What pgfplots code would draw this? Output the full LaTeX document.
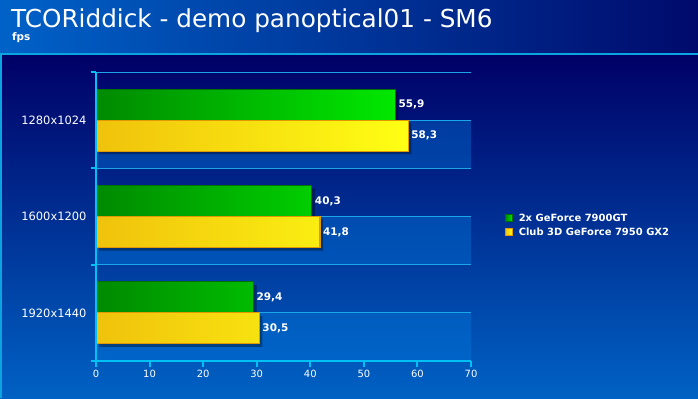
\documentclass[border=0pt]{standalone}
\usepackage{fontspec}
\setmainfont{DejaVu Sans}
\usepackage{pgfplots}
\pgfplotsset{compat=1.18}
\definecolor{titleL}{HTML}{0062C8}
\definecolor{titleR}{HTML}{000A6C}
\definecolor{panelT}{HTML}{000066}
\definecolor{panelB}{HTML}{0062C4}
\definecolor{cyanline}{HTML}{0BA3E0}
\definecolor{axiscyan}{HTML}{00C0F4}
\definecolor{gridcyan}{HTML}{1AA6E8}
\definecolor{bandcol}{HTML}{0078DC}
\definecolor{gL}{HTML}{008A00}
\definecolor{gR}{HTML}{00E800}
\definecolor{gB}{HTML}{007000}
\definecolor{yL}{HTML}{F0C20C}
\definecolor{yR}{HTML}{FFFF14}
\definecolor{yB}{HTML}{E09A00}
\begin{document}
\begin{tikzpicture}[x=1bp,y=1bp]
\useasboundingbox (0,0) rectangle (698,398);
\shade[left color=titleL,right color=titleR] (0,345) rectangle (698,398);
\shade[top color=panelT,bottom color=panelB] (0,0) rectangle (698,344);
\fill[cyanline] (0,343.5) rectangle (698,345.5);
\fill[cyanline] (0,0) rectangle (2,345);
\node[anchor=base west, text=white, font=\fontsize{24.8}{24.8}\selectfont, inner sep=0] at (11,371) {TCORiddick - demo panoptical01 - SM6};
\node[anchor=base west, text=white, font=\bfseries\fontsize{10.5}{10.5}\selectfont, inner sep=0] at (12,357.5) {fps};
\begin{axis}[
  at={(96bp,37bp)}, anchor=south west, scale only axis,
  width=375bp, height=289bp,
  xmin=0, xmax=70, ymin=-0.5, ymax=2.5,
  axis on top,
  axis x line*=bottom, axis y line*=left,
  axis line style={axiscyan, line width=2bp, -},
  xtick={0,10,...,70},
  ytick={-0.5,0.5,1.5,2.5},
  yticklabels={},
  extra y ticks={0,1,2},
  extra y tick labels={1920x1440,1600x1200,1280x1024},
  extra y tick style={major tick length=0pt},
  tick align=outside,
  major tick length=5.5bp,
  tick style={axiscyan, line width=2bp},
  /pgf/number format/assume math mode=true,
  xticklabel style={text=white, font=\fontsize{10}{10}\selectfont},
  yticklabel style={text=white, font=\fontsize{11.5}{11.5}\selectfont, xshift=-6bp},
  bar width=31bp,
  legend style={at={(1.09,0.47)}, anchor=west, draw=none, fill=none, text=white,
    font=\bfseries\fontsize{10}{10}\selectfont, row sep=1bp, column sep=4bp, inner sep=0pt},
  legend cell align=left,
  legend image code/.code={\path[#1, line width=0.8bp] (0bp,-3.5bp) rectangle (7bp,3.5bp);},
  clip=false,
]
\fill[bandcol, fill opacity=0.4] (axis cs:0,1.5) rectangle (axis cs:70,2);
\fill[bandcol, fill opacity=0.4] (axis cs:0,0.5) rectangle (axis cs:70,1);
\fill[bandcol, fill opacity=0.4] (axis cs:0,-0.5) rectangle (axis cs:70,0);
\draw[gridcyan, line width=1bp] (axis cs:0,2.5) -- (axis cs:70,2.5);
\draw[gridcyan, line width=1bp] (axis cs:0,2) -- (axis cs:70,2);
\draw[gridcyan, line width=1bp] (axis cs:0,1.5) -- (axis cs:70,1.5);
\draw[gridcyan, line width=1bp] (axis cs:0,1) -- (axis cs:70,1);
\draw[gridcyan, line width=1bp] (axis cs:0,0.5) -- (axis cs:70,0.5);
\draw[gridcyan, line width=1bp] (axis cs:0,0) -- (axis cs:70,0);
% shadows
\addplot[xbar, bar shift=15.5bp, fill=black, fill opacity=0.35, draw=none, forget plot,
  transform canvas={xshift=3bp,yshift=-3bp}]
  coordinates {(55.9,2) (40.3,1) (29.4,0)};
\addplot[xbar, bar shift=-15.5bp, fill=black, fill opacity=0.35, draw=none, forget plot,
  transform canvas={xshift=3bp,yshift=-3bp}]
  coordinates {(58.3,2) (41.8,1) (30.5,0)};
% bars
\pgfplotsset{valstyle/.style={point meta=x, nodes near coords,
  every node near coord/.append style={/pgf/number format/use comma, /pgf/number format/fixed, /pgf/number format/fixed zerofill, /pgf/number format/precision=1, text=white, font=\bfseries\fontsize{10.5}{10.5}\selectfont, anchor=west, inner sep=2.5bp, yshift=#1}}}
\addplot[xbar, bar shift=15.5bp, draw=gB, line width=1.2bp, left color=gL, right color=gR, valstyle=15.5bp]
  coordinates {(55.9,2) (40.3,1) (29.4,0)};
\addlegendentry{2x GeForce 7900GT}
\addplot[xbar, bar shift=-15.5bp, draw=yB, line width=1.2bp, left color=yL, right color=yR, valstyle=-15.5bp]
  coordinates {(58.3,2) (41.8,1) (30.5,0)};
\addlegendentry{Club 3D GeForce 7950 GX2}
\end{axis}
\end{tikzpicture}
\end{document}
